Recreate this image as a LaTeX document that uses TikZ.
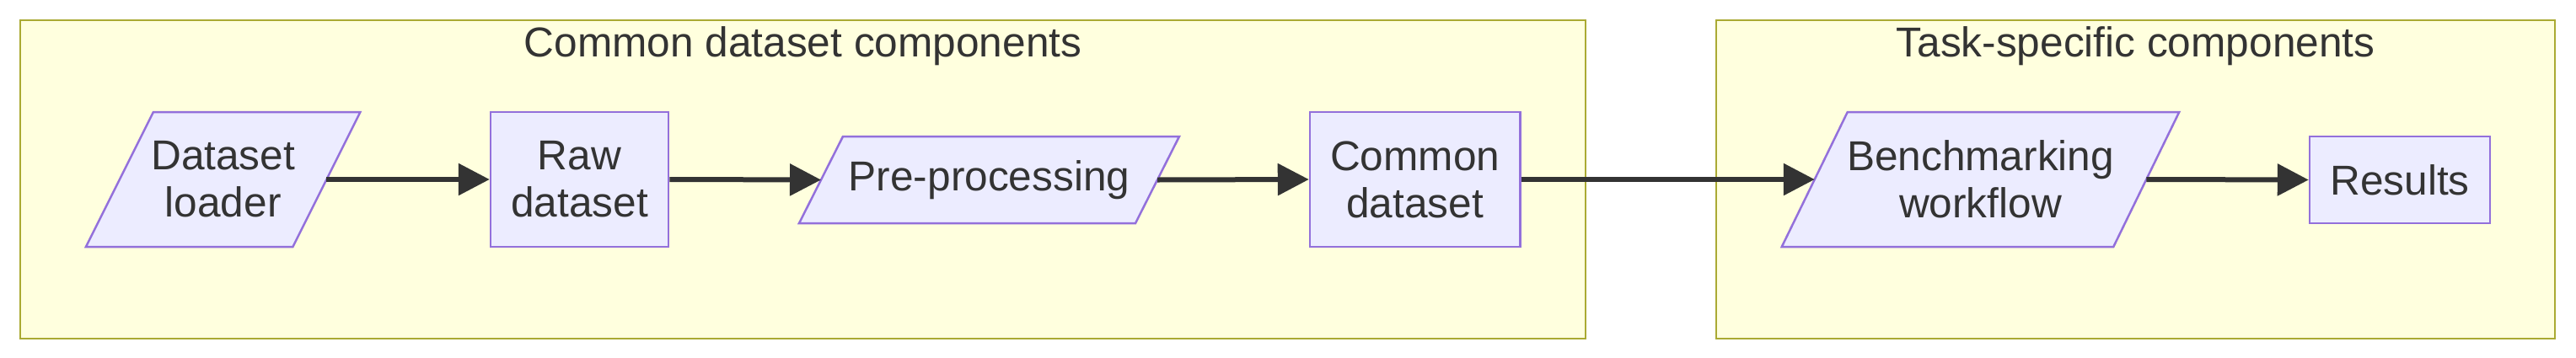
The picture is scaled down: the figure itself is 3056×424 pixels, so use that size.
\documentclass[tikz,border=0pt]{standalone}
\usepackage{fontspec}
\setmainfont{Liberation Sans}
\usetikzlibrary{arrows.meta}
\definecolor{clfill}{HTML}{FFFFDE}
\definecolor{cldraw}{HTML}{AAAA33}
\definecolor{ndfill}{HTML}{ECECFF}
\definecolor{nddraw}{HTML}{9370DB}
\definecolor{txt}{HTML}{333333}
\pgfdeclarelayer{bgbg}
\pgfdeclarelayer{bg}
\pgfsetlayers{bgbg,bg,main}
\tikzset{
  cluster/.style={fill=clfill, draw=cldraw, line width=1.35pt},
  cltitle/.style={anchor=base, text=txt, inner sep=0pt, font=\fontsize{24.8pt}{28pt}\selectfont},
  rectbox/.style={draw=nddraw, fill=ndfill, line width=1.25pt, text=txt, align=center, inner sep=0pt, font=\fontsize{24.8pt}{28pt}\selectfont},
  paratext/.style={text=txt, align=center, inner sep=0pt, outer sep=0pt, font=\fontsize{24.8pt}{28pt}\selectfont},
  parabox/.style={draw=nddraw, fill=ndfill, line width=1.25pt, line join=miter},
  arr/.style={draw=txt, line width=3pt, -{Triangle[length=18.5pt, width=18.5pt]}},
}
\newcommand{\parashape}[2]{%
  \begin{pgfonlayer}{bg}
  \draw[parabox] ([xshift=#2]#1.north west) -- ([xshift=#2]#1.north east) -- ([xshift=-#2]#1.south east) -- ([xshift=-#2]#1.south west) -- cycle;
  \end{pgfonlayer}}
\begin{document}
\begin{tikzpicture}[x=0.5pt, y=-0.5pt]
\useasboundingbox (0,0) rectangle (3056,424);
\begin{pgfonlayer}{bgbg}
  \draw[cluster] (24,24) rectangle (1881,402);
  \draw[cluster] (2036,24) rectangle (3031,402);
\end{pgfonlayer}
\node[cltitle] (t1) at (952.5,67) {Common dataset components};
\node[cltitle] (t2) at (2533.5,67) {Task-specific components};

\node[paratext, minimum width=122.75pt, minimum height=80pt] (dl) at (264.7,213) {Dataset\\loader};
\parashape{dl}{20pt}
\node[rectbox, minimum width=105.5pt, minimum height=80pt] (raw) at (687.5,213) {Raw\\dataset};
\node[paratext, minimum width=199.5pt, minimum height=51.5pt] (pre) at (1173.5,213.5) {Pre-processing};
\parashape{pre}{13pt}
\node[rectbox, minimum width=124.75pt, minimum height=80pt] (cd) at (1678.75,213) {Common\\dataset};
\node[paratext, minimum width=196.75pt, minimum height=80pt] (bw) at (2349.5,213) {Benchmarking\\workflow};
\parashape{bw}{19.5pt}
\node[rectbox, minimum width=107pt, minimum height=51.5pt] (res) at (2847,213.5) {Results};

\draw[arr] (dl.east) -- (raw.west);
\draw[arr] (raw.east) -- (pre.west);
\draw[arr] (pre.east) -- (cd.west);
\draw[arr] (cd.east) -- (bw.west);
\draw[arr] (bw.east) -- (res.west);
\end{tikzpicture}
\end{document}
